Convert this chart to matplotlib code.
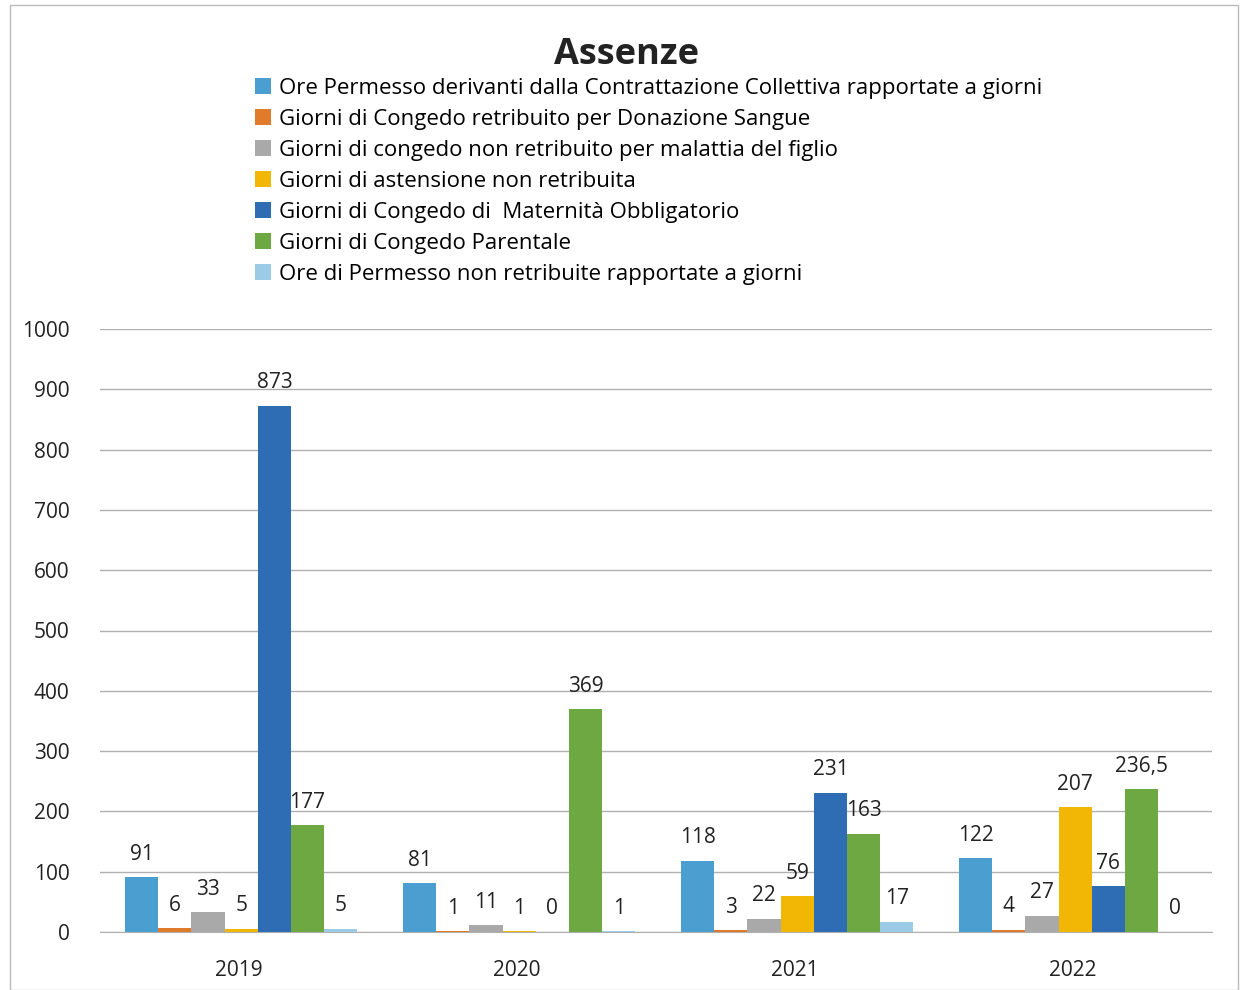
import matplotlib
matplotlib.use("Agg")
import matplotlib.pyplot as plt
import numpy as np

plt.rcParams['font.family'] = ['Open Sans', 'DejaVu Sans']

years = ["2019", "2020", "2021", "2022"]
series_names = [
    "Ore Permesso derivanti dalla Contrattazione Collettiva rapportate a giorni",
    "Giorni di Congedo retribuito per Donazione Sangue",
    "Giorni di congedo non retribuito per malattia del figlio",
    "Giorni di astensione non retribuita",
    "Giorni di Congedo di  Maternità Obbligatorio",
    "Giorni di Congedo Parentale",
    "Ore di Permesso non retribuite rapportate a giorni",
]
ore_permesso_cc = [91, 81, 118, 122]
donazione_sangue = [6, 1, 3, 4]
malattia_figlio = [33, 11, 22, 27]
astensione = [5, 1, 59, 207]
maternita = [873, 0, 231, 76]
parentale = [177, 369, 163, 236.5]
ore_non_retribuite = [5, 1, 17, 0]
series = [ore_permesso_cc, donazione_sangue, malattia_figlio, astensione,
          maternita, parentale, ore_non_retribuite]
colors = ["#4a9fd0", "#e07b2c", "#a9a9a9", "#f2b705", "#2e6db4", "#6ea843", "#9ccbe8"]

fig = plt.figure(figsize=(12.45, 9.9), dpi=100)
fig.patches.append(plt.Rectangle((10/1245, 0.0), 1228/1245, 985/990, transform=fig.transFigure,
                                 fill=False, edgecolor="#bbbbbb", linewidth=1))
ax = fig.add_axes([100/1245, 1 - 932/990, 1112/1245, 603/990])

n = len(series)
x = np.arange(len(years))
width = 0.835 / n
for i, (vals, c) in enumerate(zip(series, colors)):
    pos = x - 0.835/2 + width*(i + 0.5) + 0.008
    bars = ax.bar(pos, vals, width, color=c, label=series_names[i], zorder=3)
    for b, v in zip(bars, vals):
        txt = (f"{v:g}").replace(".", ",")
        ax.annotate(txt, (b.get_x() + b.get_width()/2, v), xytext=(0, 9),
                    textcoords="offset points", ha="center", va="bottom",
                    fontsize=15, color="#222222")

ax.set_ylim(0, 1000)
ax.set_xlim(-0.5, len(years) - 0.5)
ax.set_yticks(range(0, 1001, 100))
ax.set_xticks(x)
ax.set_xticklabels(years)
ax.tick_params(axis='both', length=0, labelsize=15, colors="#222222")
ax.tick_params(axis='y', pad=22)
ax.tick_params(axis='x', pad=20)
ax.grid(axis='y', color="#b0b0b0", linewidth=1, zorder=0)
for s in ["top", "right", "left"]:
    ax.spines[s].set_visible(False)
ax.spines["bottom"].set_color("#b0b0b0")

fig.text(626/1245, 1 - 55/990, "Assenze", ha="center", va="center",
         fontsize=26, fontweight="bold", color="#222222")

handles, labels = ax.get_legend_handles_labels()
fig.legend(handles, labels, loc="upper left", bbox_to_anchor=(255/1245, 1 - 78/990),
           frameon=False, fontsize=16, handlelength=0.7, handleheight=0.7,
           handletextpad=0.4, labelspacing=0.45, borderaxespad=0, borderpad=0)

fig.savefig("out.png", dpi=100)
